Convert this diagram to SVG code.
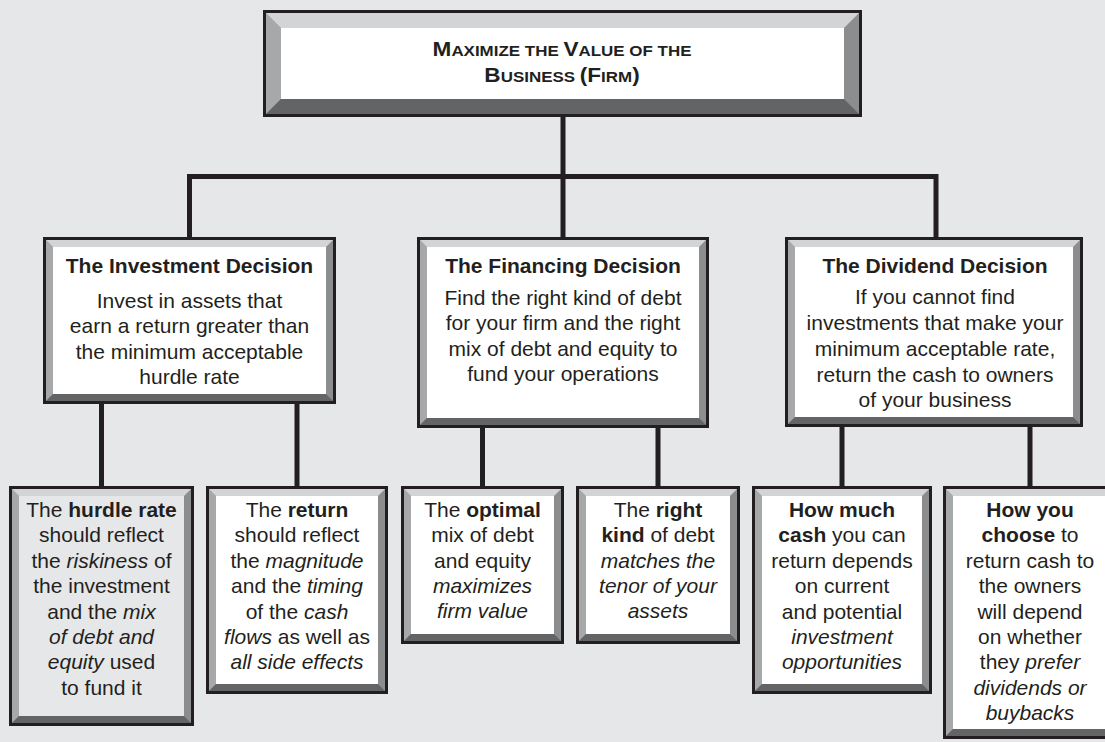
<svg xmlns="http://www.w3.org/2000/svg" width="1105" height="742" viewBox="0 0 1105 742">
<style>
.bd{fill:#231f20}
.br{fill:#8c8d8f}
.bl{fill:#a7a8aa}
.bt{fill:#d3d4d6}
.bb{fill:#636466}
.fw{fill:#ffffff}
.fg{fill:#e6e7e8}
.cn{fill:none;stroke:#231f20;stroke-width:5}
text{font-family:"Liberation Sans",Arial,Helvetica,sans-serif;font-size:21px;fill:#231f20;text-anchor:middle}
.b{font-weight:bold}
.i{font-style:italic}
.big{font-size:20px;font-weight:bold}
.sm{font-size:15px;font-weight:bold}
</style>
<rect x="0" y="0" width="1105" height="742" fill="#e6e7e8"/>
<g id="connectors">
<path class="cn" d="M189.5,237 V176.5 H936 V237 M563,117 V237 M101.5,404 V486 M297,404 V486 M482.5,428 V486 M658,428 V486 M842,427 V486 M1030,427 V486"/>
</g>
<g id="top">
<rect class="bd" x="263" y="10" width="599" height="107"/>
<rect class="br" x="266" y="13" width="593" height="101"/>
<polygon class="bl" points="266,13 281,28 281,99 266,114"/>
<polygon class="bt" points="266,13 859,13 844,28 281,28"/>
<polygon class="bb" points="266,114 859,114 844,99 281,99"/>
<rect class="fw" x="281" y="28" width="563" height="71"/>
<text transform="translate(562,56) scale(1.13,1)"><tspan class="big">M</tspan><tspan class="sm">AXIMIZE THE </tspan><tspan class="big">V</tspan><tspan class="sm">ALUE OF THE</tspan></text>
<text transform="translate(562,82) scale(1.13,1)"><tspan class="big">B</tspan><tspan class="sm">USINESS </tspan><tspan class="big">(F</tspan><tspan class="sm">IRM</tspan><tspan class="big">)</tspan></text>
</g>
<g id="investment">
<rect class="bd" x="43" y="237" width="293" height="167"/>
<rect class="br" x="46" y="240" width="287" height="161"/>
<polygon class="bl" points="46,240 53,247 53,394 46,401"/>
<polygon class="bt" points="46,240 333,240 326,247 53,247"/>
<polygon class="bb" points="46,401 333,401 326,394 53,394"/>
<rect class="fw" x="53" y="247" width="273" height="147"/>
<text class="b" x="189.5" y="273">The Investment Decision</text>
<text x="189.5" y="308">Invest in assets that</text>
<text x="189.5" y="333">earn a return greater than</text>
<text x="189.5" y="359">the minimum acceptable</text>
<text x="189.5" y="384">hurdle rate</text>
</g>
<g id="financing">
<rect class="bd" x="417" y="237" width="292" height="191"/>
<rect class="br" x="420" y="240" width="286" height="185"/>
<polygon class="bl" points="420,240 427,247 427,418 420,425"/>
<polygon class="bt" points="420,240 706,240 699,247 427,247"/>
<polygon class="bb" points="420,425 706,425 699,418 427,418"/>
<rect class="fw" x="427" y="247" width="272" height="171"/>
<text class="b" x="563" y="273">The Financing Decision</text>
<text x="563" y="305">Find the right kind of debt</text>
<text x="563" y="330">for your firm and the right</text>
<text x="563" y="356">mix of debt and equity to</text>
<text x="563" y="381">fund your operations</text>
</g>
<g id="dividend">
<rect class="bd" x="785" y="237" width="298" height="190"/>
<rect class="br" x="788" y="240" width="292" height="184"/>
<polygon class="bl" points="788,240 795,247 795,417 788,424"/>
<polygon class="bt" points="788,240 1080,240 1073,247 795,247"/>
<polygon class="bb" points="788,424 1080,424 1073,417 795,417"/>
<rect class="fw" x="795" y="247" width="278" height="170"/>
<text class="b" x="935" y="273">The Dividend Decision</text>
<text x="935" y="304">If you cannot find</text>
<text x="935" y="330">investments that make your</text>
<text x="935" y="356">minimum acceptable rate,</text>
<text x="935" y="382">return the cash to owners</text>
<text x="935" y="407">of your business</text>
</g>
<g id="hurdle">
<rect class="bd" x="9" y="486" width="185" height="240"/>
<rect class="br" x="12" y="489" width="179" height="234"/>
<polygon class="bl" points="12,489 19,496 19,716 12,723"/>
<polygon class="bt" points="12,489 191,489 184,496 19,496"/>
<polygon class="bb" points="12,723 191,723 184,716 19,716"/>
<rect class="fg" x="19" y="496" width="165" height="220"/>
<text x="101.5" y="517">The <tspan class="b">hurdle rate</tspan></text>
<text x="101.5" y="542">should reflect</text>
<text x="101.5" y="568">the <tspan class="i">riskiness</tspan> of</text>
<text x="101.5" y="593">the investment</text>
<text x="101.5" y="619">and the <tspan class="i">mix</tspan></text>
<text x="101.5" y="644" class="i">of debt and</text>
<text x="101.5" y="669"><tspan class="i">equity</tspan> used</text>
<text x="101.5" y="695">to fund it</text>
</g>
<g id="return">
<rect class="bd" x="206" y="486" width="182" height="208"/>
<rect class="br" x="209" y="489" width="176" height="202"/>
<polygon class="bl" points="209,489 216,496 216,684 209,691"/>
<polygon class="bt" points="209,489 385,489 378,496 216,496"/>
<polygon class="bb" points="209,691 385,691 378,684 216,684"/>
<rect class="fw" x="216" y="496" width="162" height="188"/>
<text x="297" y="517">The <tspan class="b">return</tspan></text>
<text x="297" y="542">should reflect</text>
<text x="297" y="568">the <tspan class="i">magnitude</tspan></text>
<text x="297" y="593">and the <tspan class="i">timing</tspan></text>
<text x="297" y="619">of the <tspan class="i">cash</tspan></text>
<text x="297" y="644"><tspan class="i">flows</tspan> as well as</text>
<text x="297" y="669" class="i">all side effects</text>
</g>
<g id="optimal">
<rect class="bd" x="401" y="486" width="163" height="158"/>
<rect class="br" x="404" y="489" width="157" height="152"/>
<polygon class="bl" points="404,489 411,496 411,634 404,641"/>
<polygon class="bt" points="404,489 561,489 554,496 411,496"/>
<polygon class="bb" points="404,641 561,641 554,634 411,634"/>
<rect class="fw" x="411" y="496" width="143" height="138"/>
<text x="482.5" y="517">The <tspan class="b">optimal</tspan></text>
<text x="482.5" y="542">mix of debt</text>
<text x="482.5" y="568">and equity</text>
<text x="482.5" y="593" class="i">maximizes</text>
<text x="482.5" y="618" class="i">firm value</text>
</g>
<g id="rightkind">
<rect class="bd" x="576" y="486" width="164" height="158"/>
<rect class="br" x="579" y="489" width="158" height="152"/>
<polygon class="bl" points="579,489 586,496 586,634 579,641"/>
<polygon class="bt" points="579,489 737,489 730,496 586,496"/>
<polygon class="bb" points="579,641 737,641 730,634 586,634"/>
<rect class="fw" x="586" y="496" width="144" height="138"/>
<text x="658" y="517">The <tspan class="b">right</tspan></text>
<text x="658" y="542"><tspan class="b">kind</tspan> of debt</text>
<text x="658" y="568" class="i">matches the</text>
<text x="658" y="593" class="i">tenor of your</text>
<text x="658" y="618" class="i">assets</text>
</g>
<g id="howmuch">
<rect class="bd" x="752" y="486" width="180" height="208"/>
<rect class="br" x="755" y="489" width="174" height="202"/>
<polygon class="bl" points="755,489 762,496 762,684 755,691"/>
<polygon class="bt" points="755,489 929,489 922,496 762,496"/>
<polygon class="bb" points="755,691 929,691 922,684 762,684"/>
<rect class="fw" x="762" y="496" width="160" height="188"/>
<text x="842" y="517" class="b">How much</text>
<text x="842" y="542"><tspan class="b">cash</tspan> you can</text>
<text x="842" y="568">return depends</text>
<text x="842" y="593">on current</text>
<text x="842" y="619">and potential</text>
<text x="842" y="644" class="i">investment</text>
<text x="842" y="669" class="i">opportunities</text>
</g>
<g id="howchoose">
<rect class="bd" x="943" y="486" width="174" height="253"/>
<rect class="br" x="946" y="489" width="168" height="247"/>
<polygon class="bl" points="946,489 953,496 953,729 946,736"/>
<polygon class="bt" points="946,489 1114,489 1107,496 953,496"/>
<polygon class="bb" points="946,736 1114,736 1107,729 953,729"/>
<rect class="fw" x="953" y="496" width="154" height="233"/>
<text x="1030" y="517" class="b">How you</text>
<text x="1030" y="542"><tspan class="b">choose</tspan> to</text>
<text x="1030" y="568">return cash to</text>
<text x="1030" y="593">the owners</text>
<text x="1030" y="619">will depend</text>
<text x="1030" y="644">on whether</text>
<text x="1030" y="669">they <tspan class="i">prefer</tspan></text>
<text x="1030" y="695" class="i">dividends or</text>
<text x="1030" y="720" class="i">buybacks</text>
</g>
</svg>
